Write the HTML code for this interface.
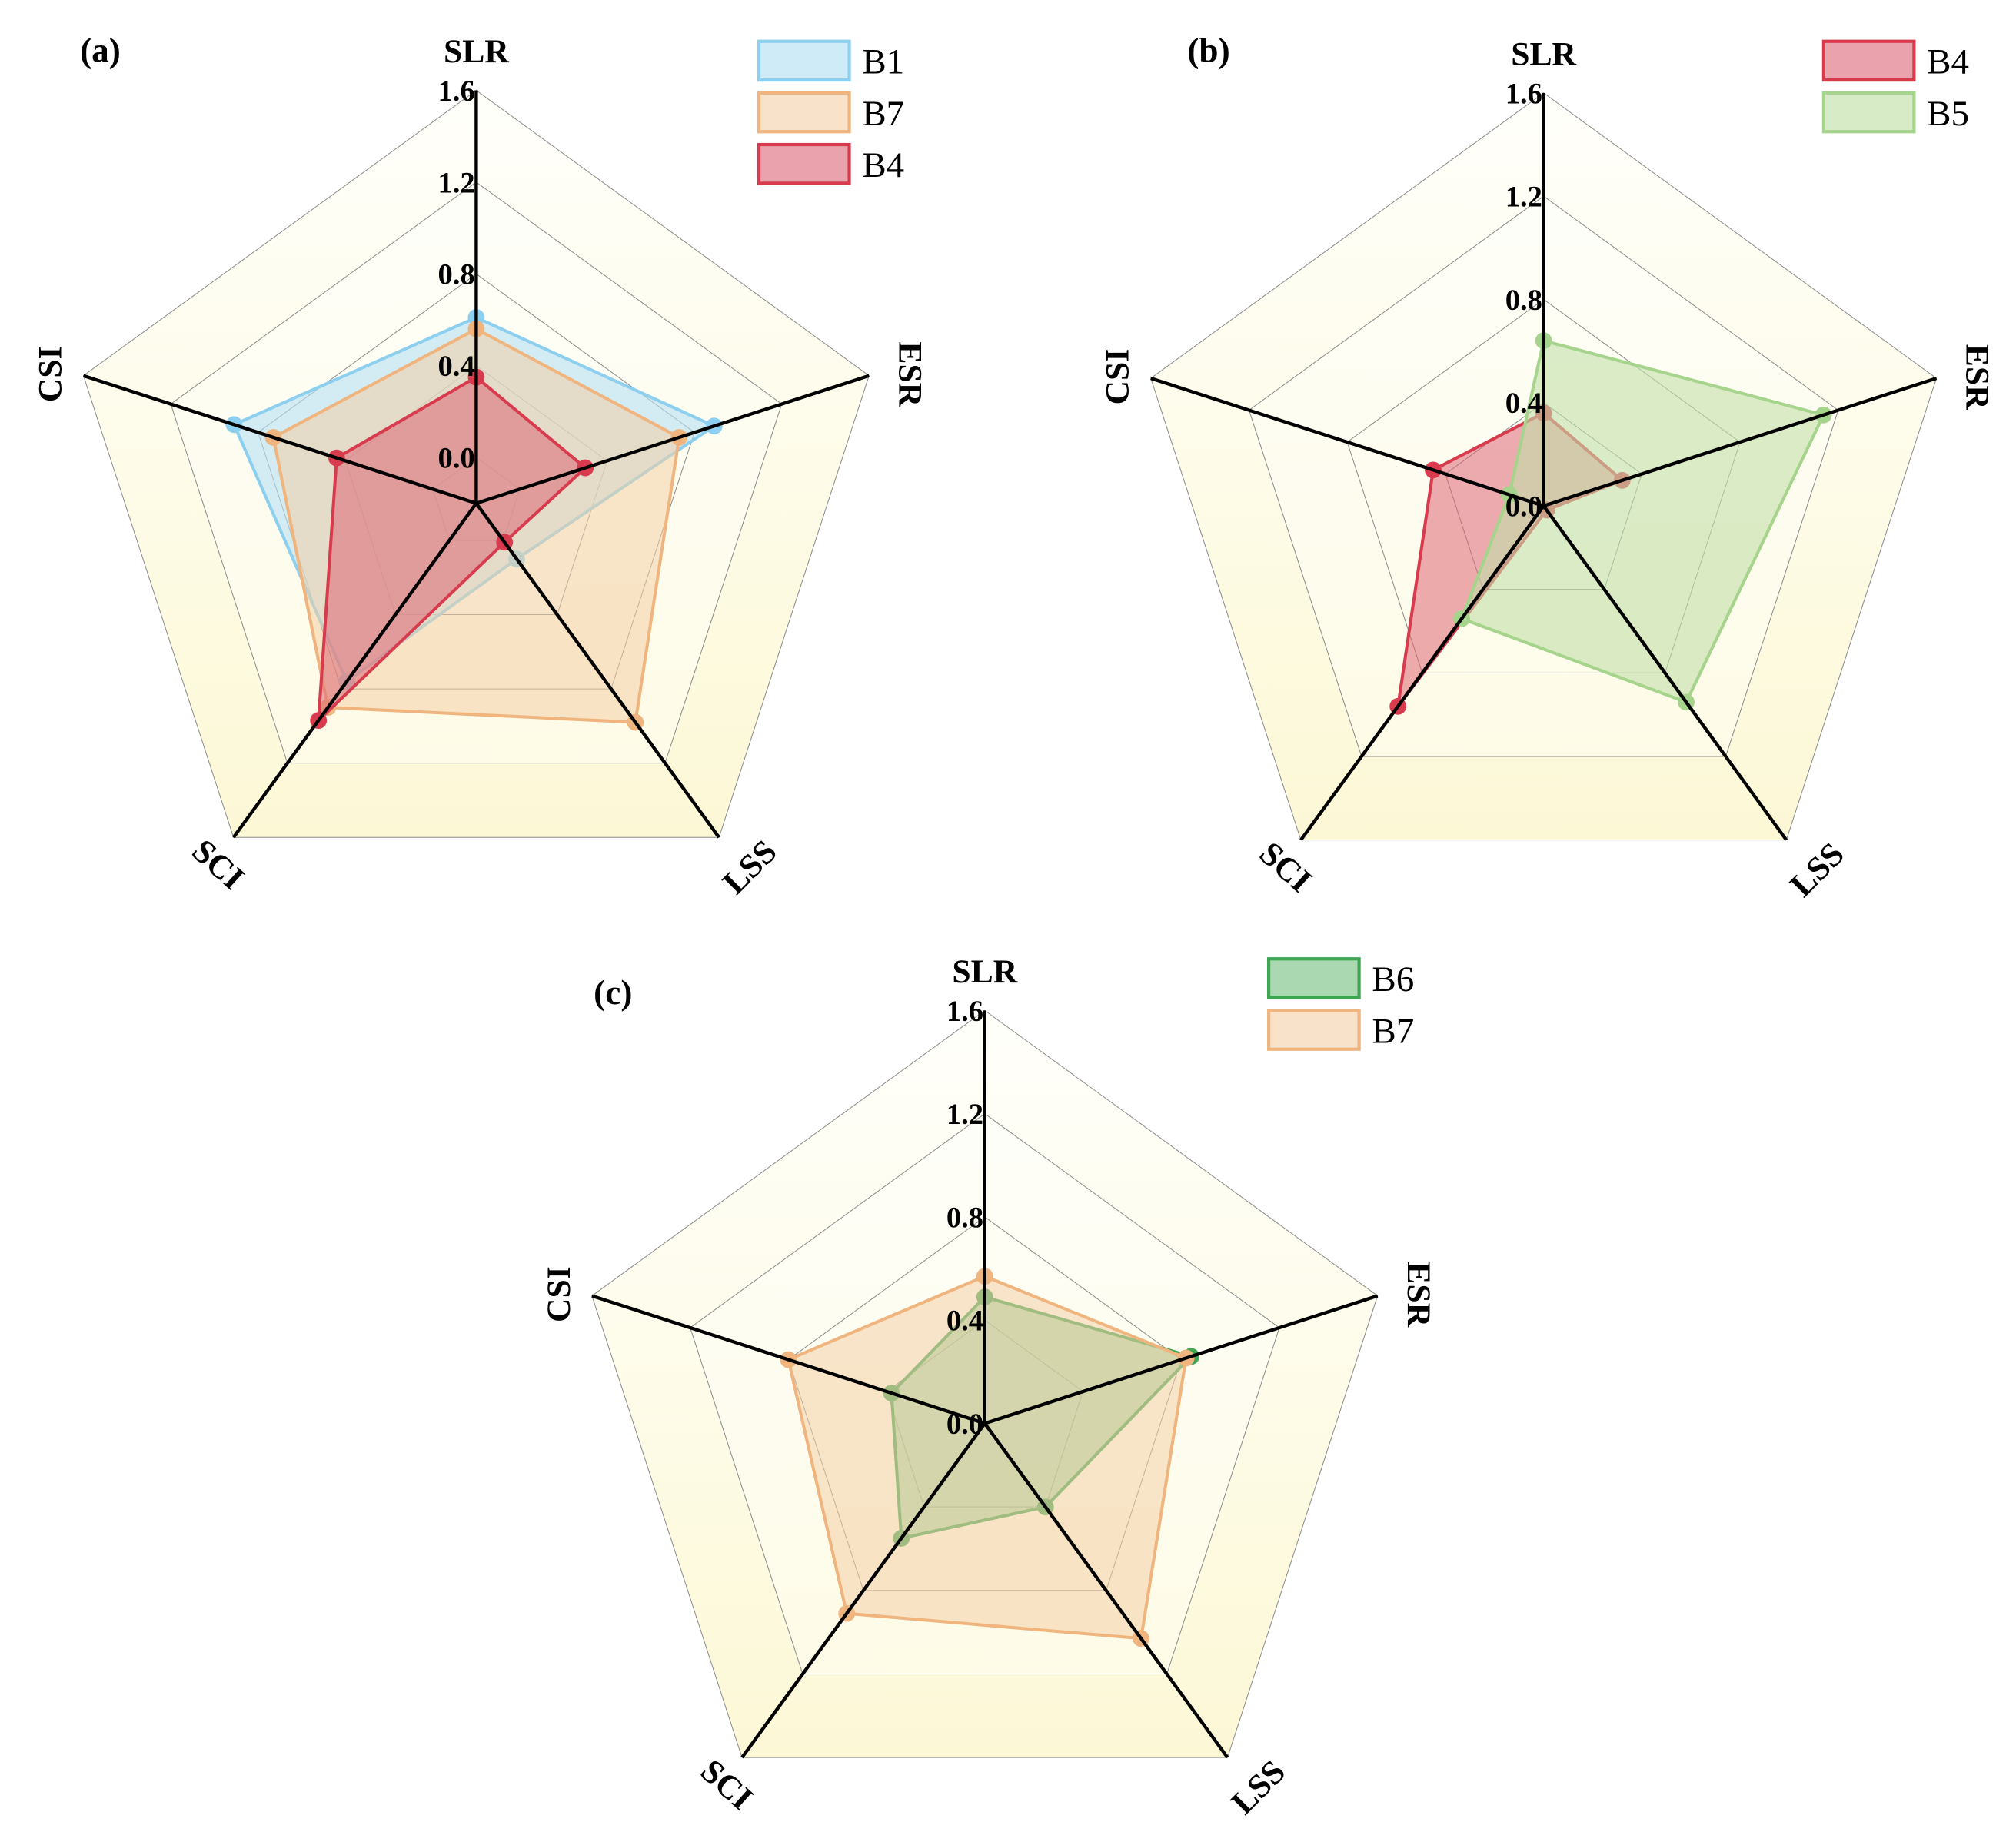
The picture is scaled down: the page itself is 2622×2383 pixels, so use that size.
<!DOCTYPE html>
<html><head><meta charset="utf-8"><style>
html,body{margin:0;padding:0;background:#fff;}
svg{display:block;}
text{font-family:"Liberation Serif",serif;}
</style></head><body>
<svg id="fig" width="2622" height="2383" viewBox="0 0 1562 1419.6" xmlns="http://www.w3.org/2000/svg">
<defs>
<linearGradient id="bg" x1="0" y1="0" x2="0" y2="1">
<stop offset="0" stop-color="#fffffb"/><stop offset="1" stop-color="#fcf8d6"/>
</linearGradient>
</defs>
</svg>
<script>
const axes = ["SLR","ESR","LSS","SCI","CSI"];
const ticks = ["0.0","0.4","0.8","1.2","1.6"];
const tickVals = [0,0.4,0.8,1.2,1.6];
const aB1 = [0.61,0.89,0.10,0.76,0.91];
const aB7 = [0.56,0.73,0.98,0.90,0.73];
const aB4 = [0.35,0.30,0.01,0.97,0.44];
const bB4 = [0.36,0.32,0.02,0.96,0.45];
const bB5 = [0.64,1.14,0.94,0.54,0.14];
const cB6 = [0.49,0.84,0.40,0.55,0.38];
const cB7 = [0.57,0.82,1.03,0.91,0.80];

const NS="http://www.w3.org/2000/svg";
const svg=document.getElementById('fig');
function mk(tag,attrs,parent){const e=document.createElementNS(NS,tag);for(const k in attrs)e.setAttribute(k,attrs[k]);(parent||svg).appendChild(e);return e;}
const angs=[90,18,-54,-126,162].map(a=>a*Math.PI/180);
const colors={
 B1:{s:"#8ccfee",f:"#b5e0f3",o:0.6},
 B7:{s:"#f0b57e",f:"#f3cfa6",o:0.55},
 B4:{s:"#d83a4e",f:"#dc6675",o:0.55},
 B5:{s:"#a6d48c",f:"#c2e0a8",o:0.6},
 B6:{s:"#3ea552",f:"#7cc487",o:0.6}
};
function panel(id,cx,cy,offset,letter,lx,ly,series,leg){
 const g=mk('g',{});
 
 
 const R=320,R0=offset?35.5:0,k=(R-R0)/1.6;
 const rad=v=>R0+v*k;
 const pt=(i,r)=>[cx+r*Math.cos(angs[i]),cy-r*Math.sin(angs[i])];
 const poly=r=>angs.map((a,i)=>pt(i,r).join(',')).join(' ');
 const bgp=mk('polygon',{points:poly(R),fill:'url(#bg)'},g);
 
 
 for(let t=tickVals.length-1;t>=0;t--){
  const r=rad(tickVals[t]);
  const ring=mk('polygon',{points:poly(r),fill:t%2?'rgba(255,255,255,0.35)':'rgba(255,255,240,0.0)',stroke:'#8a8a8a','stroke-width':0.6},g);
  
  
 }
 series.forEach(([name,vals])=>{
  const c=colors[name];
  const pts=vals.map((v,i)=>pt(i,rad(v)));
  const p=mk('polygon',{points:pts.map(q=>q.join(',')).join(' '),fill:c.f,'fill-opacity':c.o,stroke:c.s,'stroke-width':2.4,'stroke-linejoin':'round'},g);
  
  
  pts.forEach((q,i)=>{
   const d=mk('circle',{cx:q[0],cy:q[1],r:6.5,fill:c.s},g);
   
   
  });
 });
 angs.forEach((a,i)=>{
  const e=pt(i,R);
  const l=mk('line',{x1:cx,y1:cy,x2:e[0],y2:e[1],stroke:'#000','stroke-width':2.6},g);
  
  
 });
 tickVals.forEach((v,t)=>{
  const tx=mk('text',{x:cx-1,y:cy-rad(v)+8,'text-anchor':'end','font-size':23,'font-weight':'bold'},g);
  tx.textContent=ticks[t];
  
  
 });
 const lab=[[0,-350,0],[336,-100,90],[212,282,-45],[-200,280,42],[-330,-100,-90]];
 axes.forEach((n,i)=>{
  const [dx,dy,rot]=lab[i];
  const x=cx+dx,y=cy+dy;
  const t=mk('text',{x:x,y:y,'text-anchor':'middle','dominant-baseline':'central','font-size':26,'font-weight':'bold',transform:'rotate('+rot+' '+x+' '+y+')'},g);
  t.textContent=n;
  
  
 });
 const pl=mk('text',{x:lx,y:ly,'font-size':27,'font-weight':'bold'},g);
 pl.textContent='('+letter+')';
 
 
 series.forEach(([name],j)=>{
  const c=colors[name];
  const r=mk('rect',{x:leg[0],y:leg[1]+j*40,width:70,height:30,fill:c.f,'fill-opacity':c.o+0.05,stroke:c.s,'stroke-width':2.5},g);
  
  
  const t=mk('text',{x:leg[0]+80,y:leg[1]+j*40+25,'font-size':28},g);
  t.textContent=name;
  
  
 });
}
panel('a',369,390,true,'a',62,48,[["B1",aB1],["B7",aB7],["B4",aB4]],[588,32]);
panel('b',1196,392,false,'b',920,48,[["B4",bB4],["B5",bB5]],[1413,32]);
panel('c',763,1103,false,'c',460,778,[["B6",cB6],["B7",cB7]],[983,743]);
</script>
</body></html>
